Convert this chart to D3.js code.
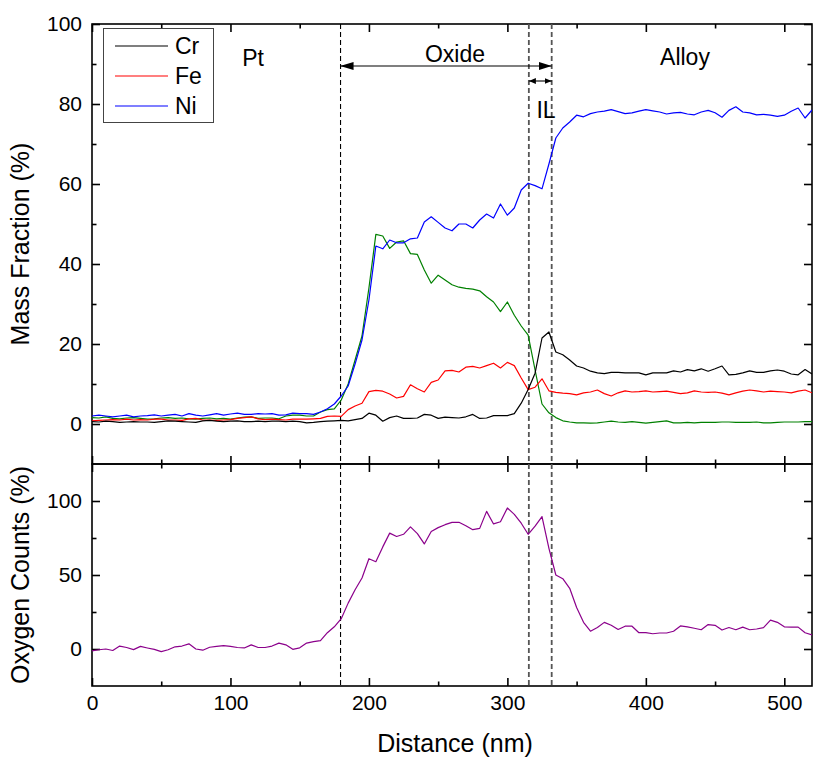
<!DOCTYPE html>
<html>
<head>
<meta charset="utf-8">
<script src="https://cdn.jsdelivr.net/npm/d3@7"></script>
<style>
  body { margin: 0; background: #fff; }
  svg text { font-family: "Liberation Sans", Arial, Helvetica, sans-serif; fill: #000; }
</style>
</head>
<body>
<svg id="chart" width="813" height="757"></svg>
<script>
// Sample positions along the line scan (nm)
const distance = [0,5,10,15,20,25,30,35,40,45,50,55,60,65,70,75,80,85,90,95,
  100,105,110,115,120,125,130,135,140,145,150,155,160,165,170,175,180,185,190,195,
  200,205,210,215,220,225,230,235,240,245,250,255,260,265,270,275,280,285,290,295,
  300,305,310,315,320,325,330,335,340,345,350,355,360,365,370,375,380,385,390,395,
  400,405,410,415,420,425,430,435,440,445,450,455,460,465,470,475,480,485,490,495,
  500,505,510,515,520];

// Mass fractions (%)
const cr = [0.6,0.5,0.7,0.6,0.4,0.5,0.6,0.5,0.5,0.4,0.6,0.8,0.7,0.6,0.5,0.4,0.8,0.9,0.7,0.6,
  0.7,0.8,0.6,0.6,0.7,0.6,0.7,0.7,0.6,0.7,0.6,0.3,0.4,0.6,0.7,0.8,0.9,0.8,1.1,1.4,
  2.7,2.2,0.7,1.6,2.0,1.4,1.4,1.5,2.4,2.2,1.4,1.7,1.6,1.5,1.8,2.4,1.4,1.5,2.1,2.1,
  2.1,2.6,5.2,8.6,12.7,21.5,23.0,18.0,17.3,16.0,14.5,14.0,13.2,12.8,12.6,12.9,12.9,12.8,12.8,12.8,
  12.3,12.8,12.8,12.8,13.3,13.0,13.6,13.3,13.8,13.2,13.8,14.5,12.3,12.4,12.8,13.3,12.9,12.9,13.3,13.5,
  13.2,12.5,12.3,13.6,12.5];

const fe = [0.8,0.9,1.0,1.1,1.0,1.2,1.0,1.1,1.0,1.2,1.2,1.0,1.0,0.9,1.3,1.4,1.0,1.0,0.9,1.0,
  1.1,1.4,1.6,1.8,1.3,1.1,1.2,1.1,1.0,1.2,1.2,1.2,1.3,1.4,1.9,2.0,1.9,3.6,4.5,5.2,
  8.1,8.4,8.2,7.5,6.5,6.9,9.8,8.8,8.0,10.4,11.0,13.3,13.4,13.0,14.2,14.4,14.0,14.6,15.2,14.0,
  15.4,14.6,11.5,8.6,9.2,11.3,8.3,7.9,7.7,7.6,7.3,7.8,8.0,8.5,7.6,7.0,7.8,8.3,8.0,8.1,
  8.3,8.0,8.1,8.2,7.9,7.6,7.8,8.3,8.0,7.9,8.0,7.7,7.3,7.8,8.2,8.5,8.3,8.0,8.2,8.1,
  8.0,7.8,8.2,8.5,7.8];

const ni = [2.0,2.2,2.0,1.8,2.0,2.2,1.8,2.0,2.1,2.3,2.0,2.2,2.4,2.0,2.6,2.2,2.0,2.3,2.6,2.2,
  2.5,2.7,2.4,2.4,2.6,2.5,2.6,2.2,2.3,2.7,2.6,2.6,2.4,3.0,3.8,5.0,7.0,9.5,15.0,21.0,
  31.0,44.5,43.8,46.0,45.3,45.3,46.3,46.5,50.5,51.8,50.4,49.0,48.3,50.0,50.0,49.0,51.0,52.5,51.5,55.0,
  52.2,54.0,58.5,60.2,59.6,58.8,65.0,71.5,74.0,75.5,77.2,76.8,77.6,78.0,78.2,78.6,78.1,77.6,77.8,78.2,
  78.6,78.3,78.0,77.5,77.8,77.9,77.5,77.3,78.0,78.4,77.8,76.7,78.4,79.3,78.0,77.8,77.3,77.4,77.2,76.9,
  77.2,78.2,79.0,76.5,78.5];

const extraSeries = [1.6,1.5,1.8,1.4,1.3,1.5,1.6,1.4,1.2,1.3,1.5,1.6,1.4,1.5,1.3,1.2,1.4,1.5,1.3,1.4,
  1.2,1.5,1.7,1.8,1.4,1.5,1.5,1.3,2.0,2.2,2.2,2.0,2.0,3.0,3.6,3.8,6.0,10.0,16.0,22.0,
  34.0,47.4,47.0,43.9,45.5,45.8,42.6,42.4,38.5,35.2,37.2,36.0,34.8,34.2,33.9,33.7,33.3,31.8,30.5,28.1,
  30.5,27.2,24.5,22.2,13.5,5.0,2.8,1.6,0.8,0.5,0.3,0.3,0.2,0.3,0.5,0.7,0.5,0.4,0.6,0.4,
  0.2,0.4,0.6,0.8,0.3,0.3,0.4,0.3,0.4,0.4,0.4,0.5,0.5,0.4,0.4,0.4,0.5,0.3,0.3,0.4,
  0.5,0.5,0.5,0.6,0.6];

// Oxygen counts (%)
const oxygen = [-1.3,-0.5,0.0,-1.0,2.0,1.0,-0.4,1.8,0.7,-0.3,-1.8,-0.5,1.5,2.0,3.5,0.0,-0.8,1.2,1.8,2.3,
  1.8,1.0,0.7,2.8,1.0,1.0,2.0,4.0,2.8,-0.2,0.8,4.0,5.0,5.6,11.0,15.0,20.5,31.0,40.0,48.0,
  61.0,59.0,69.0,78.3,76.0,77.5,82.5,78.0,71.0,79.4,82.0,84.0,85.6,85.6,83.3,80.6,81.5,93.0,84.5,86.0,
  95.3,91.0,85.0,77.5,83.0,89.5,68.0,50.0,47.5,41.0,28.0,18.0,12.0,14.5,18.0,16.0,13.2,15.4,15.4,11.0,
  11.1,10.3,10.8,10.8,12.0,15.6,15.0,14.0,13.0,16.5,16.0,12.8,14.5,13.0,14.8,13.0,13.5,14.5,19.5,18.0,
  15.0,14.8,14.8,11.0,9.5];

// Layer boundaries (nm)
const boundaries = [179.5, 315.5, 332];
const legendNames = ["Cr", "Fe", "Ni"];
const xMajorTicks = [0, 100, 200, 300, 400, 500];
const xMinorTicks = [50, 150, 250, 350, 450];
const topMajorTicks = [0, 20, 40, 60, 80, 100];
const topMinorTicks = [10, 30, 50, 70, 90];
const botMajorTicks = [0, 50, 100];
const botMinorTicks = [25, 75];

const svg = d3.select("#chart");
const L = 92, R = 812, T1 = 24, B1 = 464, T2 = 464, B2 = 686;

const x = d3.scaleLinear().domain([0, 520]).range([L, R]);
const yTop = d3.scaleLinear().domain([-10, 100]).range([B1, T1]);
const yBot = d3.scaleLinear().domain([-25, 125]).range([B2, T2]);

svg.append("defs").append("clipPath").attr("id", "clipTop")
  .append("rect").attr("x", L).attr("y", T1).attr("width", R - L).attr("height", B1 - T1);
svg.select("defs").append("clipPath").attr("id", "clipBot")
  .append("rect").attr("x", L).attr("y", T2).attr("width", R - L).attr("height", B2 - T2);

// Generic inward-ticked axis
function drawAxis(axisFn, scale, pos, majors, minors, labelled, padding, fontSize) {
  const g = svg.append("g").attr("transform", pos);
  const major = axisFn(scale).tickValues(majors).tickSizeInner(-8).tickSizeOuter(0)
    .tickPadding(padding);
  if (!labelled) major.tickFormat("");
  g.call(major);
  const gm = svg.append("g").attr("transform", pos);
  gm.call(axisFn(scale).tickValues(minors).tickSizeInner(-4.5).tickSizeOuter(0).tickFormat(""));
  [g, gm].forEach(s => {
    s.select(".domain").remove();
    s.selectAll(".tick line").attr("stroke", "#000").attr("stroke-width", 1.6);
  });
  g.selectAll(".tick text").attr("font-size", fontSize).attr("fill", "#000")
    .style("font-family", '"Liberation Sans", Arial, sans-serif');
  return g;
}

// Top panel axes
drawAxis(d3.axisLeft, yTop, `translate(${L},0)`, topMajorTicks, topMinorTicks, true, 10, 21);
drawAxis(d3.axisRight, yTop, `translate(${R},0)`, topMajorTicks, topMinorTicks, false, 0, 21);
drawAxis(d3.axisTop, x, `translate(0,${T1})`, xMajorTicks, xMinorTicks, false, 0, 21);
drawAxis(d3.axisBottom, x, `translate(0,${B1})`, xMajorTicks, xMinorTicks, false, 0, 21);
// Bottom panel axes
drawAxis(d3.axisLeft, yBot, `translate(${L},0)`, botMajorTicks, botMinorTicks, true, 10, 21);
drawAxis(d3.axisRight, yBot, `translate(${R},0)`, botMajorTicks, botMinorTicks, false, 0, 21);
drawAxis(d3.axisTop, x, `translate(0,${T2})`, xMajorTicks, xMinorTicks, false, 0, 21);
drawAxis(d3.axisBottom, x, `translate(0,${B2})`, xMajorTicks, xMinorTicks, true, 9, 21);

// Panel frames
[[T1, B1], [T2, B2]].forEach(([t, b]) => {
  svg.append("rect").attr("x", L).attr("y", t).attr("width", R - L).attr("height", b - t)
    .attr("fill", "none").attr("stroke", "#000").attr("stroke-width", 1.6);
});

// Boundary markers
boundaries.forEach((d, i) => {
  svg.append("line").attr("x1", x(d)).attr("x2", x(d)).attr("y1", T1).attr("y2", B2)
    .attr("stroke", i === 0 ? "#000" : "#555").attr("stroke-width", i === 0 ? 1.1 : 1.8)
    .attr("stroke-dasharray", "5,3");
});

// Profiles
const lineTop = d3.line().x((d, i) => x(distance[i])).y(d => yTop(d));
const lineBot = d3.line().x((d, i) => x(distance[i])).y(d => yBot(d));
const topSeries = [
  { v: extraSeries, c: "#008000" },
  { v: fe, c: "#ff0000" },
  { v: cr, c: "#000000" },
  { v: ni, c: "#0000ff" }
];
const gTop = svg.append("g").attr("clip-path", "url(#clipTop)");
topSeries.forEach(s => {
  gTop.append("path").datum(s.v).attr("d", lineTop).attr("fill", "none")
    .attr("stroke", s.c).attr("stroke-width", 1.2).attr("stroke-linejoin", "round");
});
svg.append("g").attr("clip-path", "url(#clipBot)").append("path").datum(oxygen)
  .attr("d", lineBot).attr("fill", "none").attr("stroke", "#8b008b")
  .attr("stroke-width", 1.2).attr("stroke-linejoin", "round");

// Arrow markers
const defs = svg.select("defs");
function marker(id, w, h, orient) {
  defs.append("marker").attr("id", id).attr("viewBox", `0 0 ${w} ${h}`)
    .attr("refX", w).attr("refY", h / 2).attr("markerWidth", w).attr("markerHeight", h)
    .attr("markerUnits", "userSpaceOnUse").attr("orient", orient)
    .append("path").attr("d", `M0,0L${w},${h / 2}L0,${h}Z`).attr("fill", "#000");
}
marker("bigHead", 13, 8, "auto-start-reverse");
marker("smallHead", 7, 6, "auto-start-reverse");

svg.append("line").attr("x1", x(boundaries[0])).attr("x2", x(boundaries[2]))
  .attr("y1", 66).attr("y2", 66).attr("stroke", "#000").attr("stroke-width", 1.1)
  .attr("marker-start", "url(#bigHead)").attr("marker-end", "url(#bigHead)");
svg.append("line").attr("x1", x(boundaries[1])).attr("x2", x(boundaries[2]))
  .attr("y1", 81).attr("y2", 81).attr("stroke", "#000").attr("stroke-width", 1.1)
  .attr("marker-start", "url(#smallHead)").attr("marker-end", "url(#smallHead)");

// Region labels
const annot = [
  { t: "Pt", x: 253, y: 66 },
  { t: "Oxide", x: 455, y: 62 },
  { t: "IL", x: 546, y: 118 },
  { t: "Alloy", x: 685, y: 65 }
];
annot.forEach(a => {
  svg.append("text").attr("x", a.x).attr("y", a.y).attr("text-anchor", "middle")
    .attr("font-size", 23).text(a.t);
});

// Legend
const lg = svg.append("g");
lg.append("rect").attr("x", 103.5).attr("y", 28.5).attr("width", 110).attr("height", 94)
  .attr("fill", "#fff").attr("stroke", "#444").attr("stroke-width", 1);
const legendColors = ["#000000", "#ff0000", "#0000ff"];
legendNames.forEach((n, i) => {
  const yy = 46 + i * 30;
  lg.append("line").attr("x1", 115).attr("x2", 168).attr("y1", yy).attr("y2", yy)
    .attr("stroke", legendColors[i]).attr("stroke-width", 1.2);
  lg.append("text").attr("x", 175).attr("y", yy + 8).attr("font-size", 23).text(n);
});

// Axis titles
svg.append("text").attr("x", 455).attr("y", 752).attr("text-anchor", "middle")
  .attr("font-size", 25).text("Distance (nm)");
svg.append("text").attr("transform", `translate(29,${(T1 + B1) / 2}) rotate(-90)`)
  .attr("text-anchor", "middle").attr("font-size", 25).text("Mass Fraction (%)");
svg.append("text").attr("transform", `translate(29,${(T2 + B2) / 2}) rotate(-90)`)
  .attr("text-anchor", "middle").attr("font-size", 25).text("Oxygen Counts (%)");
</script>
</body>
</html>
